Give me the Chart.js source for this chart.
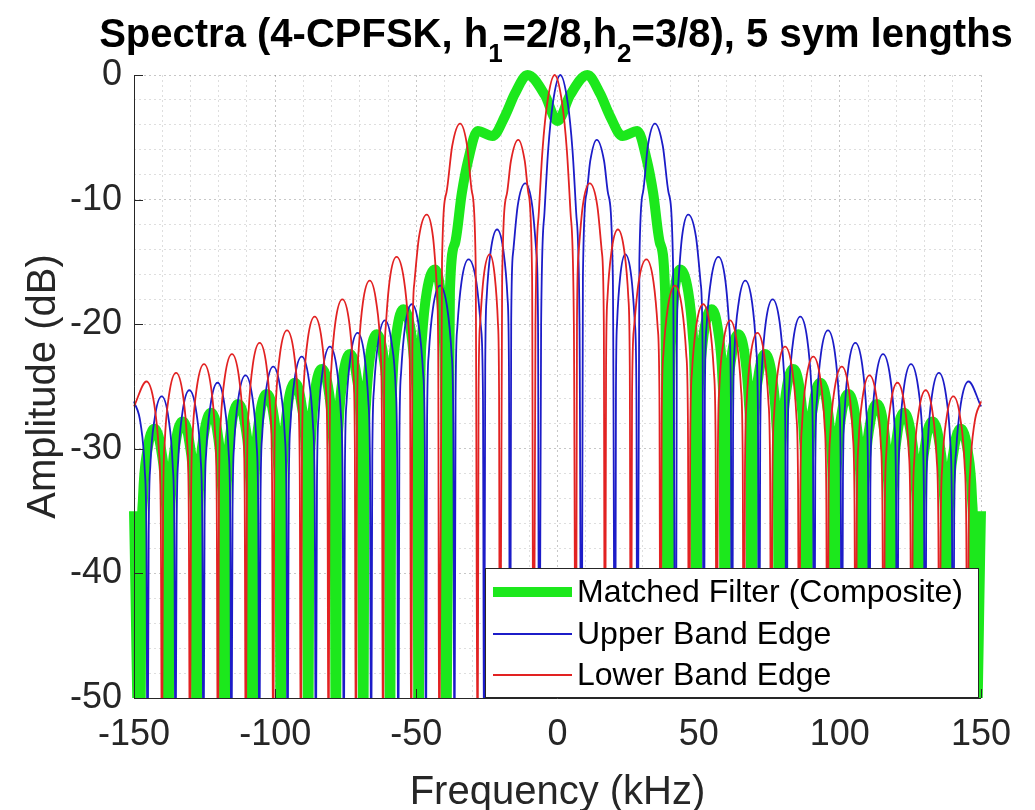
<!DOCTYPE html>
<html>
<head>
<meta charset="utf-8">
<title>Spectra (4-CPFSK)</title>
<script src="https://cdn.jsdelivr.net/npm/chart.js@4.4.1/dist/chart.umd.min.js"></script>
<style>
  html, body { margin: 0; padding: 0; background: #ffffff; }
  canvas { display: block; }
</style>
</head>
<body>
<canvas id="spectra" width="1035" height="810"></canvas>
<script>
// Notch depth: spectral nulls fall below the -50 dB floor, so they run off the bottom of the axes.
const NOTCH = -58;

// Matched filter (composite) spectrum: [frequency kHz, amplitude dB]
const matchedFilter = [
  [-150, -35], [-147.8, NOTCH],
  [-147.4, -39.4], [-146.8, -33.9], [-145.3, -30.2], [-142.8, -28.4], [-140.3, -30.2], [-138.8, -33.9], [-138.2, -39.4], [-137.8, NOTCH],
  [-137.4, -38.8], [-136.8, -33.3], [-135.3, -29.6], [-132.8, -27.8], [-130.3, -29.6], [-128.8, -33.3], [-128.2, -38.8], [-127.8, NOTCH],
  [-127.4, -38.1], [-126.8, -32.6], [-125.25, -28.9], [-122.7, -27.1], [-120.3, -28.9], [-118.9, -32.6], [-118.3, -38.1], [-117.9, NOTCH],
  [-117.5, -37.4], [-116.9, -31.9], [-115.5, -28.2], [-113.1, -26.4], [-110.55, -28.2], [-109.0, -31.9], [-108.4, -37.4], [-108.0, NOTCH],
  [-107.6, -36.6], [-107.0, -31.1], [-105.5, -27.4], [-103.0, -25.6], [-100.5, -27.4], [-99.0, -31.1], [-98.4, -36.6], [-98.0, NOTCH],
  [-97.6, -35.7], [-97.0, -30.2], [-95.5, -26.5], [-93.0, -24.7], [-90.65, -26.5], [-89.2, -30.2], [-88.7, -35.7], [-88.3, NOTCH],
  [-87.9, -34.6], [-87.3, -29.1], [-85.9, -25.4], [-83.5, -23.6], [-81.0, -25.4], [-79.5, -29.1], [-78.9, -34.6], [-78.5, NOTCH],
  [-78.1, -33.4], [-77.5, -27.9], [-76.0, -24.2], [-73.5, -22.4], [-71.15, -24.2], [-69.7, -27.9], [-69.2, -33.4], [-68.8, NOTCH],
  [-68.4, -31.8], [-67.8, -26.3], [-66.4, -22.6], [-64.0, -20.8], [-61.65, -22.6], [-60.2, -26.3], [-59.7, -31.8], [-59.3, NOTCH],
  [-58.9, -29.8], [-58.4, -24.3], [-56.95, -20.6], [-54.6, -18.8], [-51.9, -20.6], [-50.3, -24.3], [-49.6, -29.8], [-49.2, NOTCH],
  [-48.7, -26.6], [-48.0, -21.1], [-46.3, -17.4], [-43.4, -15.6], [-41.45, -17.4], [-40.3, -21.1], [-39.8, -26.6], [-39.5, NOTCH],
  [-38.1, -17.3], [-36.3, -13.5], [-33.9, -9.5], [-31.6, -6.8], [-28.3, -4.5], [-23.0, -4.9],
  [-18.6, -3.3], [-15.1, -1.5], [-10.6, 0], [-4.5, -1.6], [0, -3.7], [4.5, -1.6], [10.6, 0],
  [15.1, -1.5], [18.6, -3.3], [23.0, -4.9], [28.3, -4.5], [31.6, -6.8], [33.9, -9.5], [36.3, -13.5],
  [38.1, -17.3], [39.5, NOTCH],
  [39.8, -26.6], [40.3, -21.1], [41.45, -17.4], [43.4, -15.6], [46.3, -17.4], [48.0, -21.1], [48.7, -26.6], [49.2, NOTCH],
  [49.6, -29.8], [50.3, -24.3], [51.9, -20.6], [54.6, -18.8], [56.95, -20.6], [58.4, -24.3], [58.9, -29.8], [59.3, NOTCH],
  [59.7, -31.8], [60.2, -26.3], [61.65, -22.6], [64.0, -20.8], [66.4, -22.6], [67.8, -26.3], [68.4, -31.8], [68.8, NOTCH],
  [69.2, -33.4], [69.7, -27.9], [71.15, -24.2], [73.5, -22.4], [76.0, -24.2], [77.5, -27.9], [78.1, -33.4], [78.5, NOTCH],
  [78.9, -34.6], [79.5, -29.1], [81.0, -25.4], [83.5, -23.6], [85.9, -25.4], [87.3, -29.1], [87.9, -34.6], [88.3, NOTCH],
  [88.7, -35.7], [89.2, -30.2], [90.65, -26.5], [93.0, -24.7], [95.5, -26.5], [97.0, -30.2], [97.6, -35.7], [98.0, NOTCH],
  [98.4, -36.6], [99.0, -31.1], [100.5, -27.4], [103.0, -25.6], [105.5, -27.4], [107.0, -31.1], [107.6, -36.6], [108.0, NOTCH],
  [108.4, -37.4], [109.0, -31.9], [110.55, -28.2], [113.1, -26.4], [115.5, -28.2], [116.9, -31.9], [117.5, -37.4], [117.9, NOTCH],
  [118.3, -38.1], [118.9, -32.6], [120.3, -28.9], [122.7, -27.1], [125.25, -28.9], [126.8, -32.6], [127.4, -38.1], [127.8, NOTCH],
  [128.2, -38.8], [128.8, -33.3], [130.3, -29.6], [132.8, -27.8], [135.3, -29.6], [136.8, -33.3], [137.4, -38.8], [137.8, NOTCH],
  [138.2, -39.4], [138.8, -33.9], [140.3, -30.2], [142.8, -28.4], [145.3, -30.2], [146.8, -33.9], [147.4, -39.4], [147.8, NOTCH],
  [150, -35]
];

// Upper band edge spectrum: [frequency kHz, amplitude dB]
const upperBandEdge = [
  [-150, -26.2], [-147.65, -28.0], [-146.2, -31.7], [-145.6, -37.2], [-145.2, NOTCH],
  [-144.8, -36.8], [-144.2, -31.3], [-142.7, -27.6], [-140.2, -25.8], [-137.75, -27.6], [-136.3, -31.3], [-135.7, -36.8], [-135.3, NOTCH],
  [-134.9, -36.3], [-134.3, -30.8], [-132.85, -27.1], [-130.4, -25.3], [-127.9, -27.1], [-126.4, -30.8], [-125.8, -36.3], [-125.4, NOTCH],
  [-125.0, -35.7], [-124.4, -30.2], [-122.9, -26.5], [-120.4, -24.7], [-117.95, -26.5], [-116.5, -30.2], [-115.9, -35.7], [-115.5, NOTCH],
  [-115.1, -35.1], [-114.5, -29.6], [-113.0, -25.9], [-110.5, -24.1], [-108.05, -25.9], [-106.6, -29.6], [-106.0, -35.1], [-105.6, NOTCH],
  [-105.2, -34.4], [-104.6, -28.9], [-103.15, -25.2], [-100.7, -23.4], [-98.15, -25.2], [-96.6, -28.9], [-96.0, -34.4], [-95.6, NOTCH],
  [-95.2, -33.6], [-94.6, -28.1], [-93.1, -24.4], [-90.6, -22.6], [-88.1, -24.4], [-86.6, -28.1], [-86.0, -33.6], [-85.6, NOTCH],
  [-85.2, -32.8], [-84.6, -27.3], [-83.1, -23.6], [-80.6, -21.8], [-78.15, -23.6], [-76.7, -27.3], [-76.1, -32.8], [-75.7, NOTCH],
  [-75.3, -31.7], [-74.7, -26.2], [-73.25, -22.5], [-70.8, -20.7], [-68.4, -22.5], [-67.0, -26.2], [-66.4, -31.7], [-66.0, NOTCH],
  [-65.6, -30.7], [-65.0, -25.2], [-63.55, -21.5], [-61.1, -19.7], [-58.75, -21.5], [-57.3, -25.2], [-56.8, -30.7], [-56.4, NOTCH],
  [-56.0, -29.4], [-55.4, -23.9], [-54.0, -20.2], [-51.6, -18.4], [-49.1, -20.2], [-47.6, -23.9], [-47.0, -29.4], [-46.6, NOTCH],
  [-46.2, -27.9], [-45.6, -22.4], [-44.1, -18.7], [-41.6, -16.9], [-39.05, -18.7], [-37.5, -22.4], [-36.9, -27.9], [-36.5, NOTCH],
  [-36.1, -25.8], [-35.5, -20.3], [-34.0, -16.6], [-31.5, -14.8], [-28.75, -16.6], [-27.1, -20.3], [-26.4, -25.8], [-26.0, NOTCH],
  [-25.6, -23.4], [-25.1, -17.9], [-23.7, -14.2], [-21.4, -12.4], [-19.1, -14.2], [-17.7, -17.9], [-17.2, -23.4], [-16.8, NOTCH],
  [-16.4, -19.7], [-15.7, -14.2], [-14.1, -10.5], [-11.4, -8.7], [-8.95, -10.5], [-7.5, -14.2], [-6.9, -19.7], [-6.5, NOTCH],
  [-5.8, -20], [-4.6, -11], [-3.3, -6], [-1.6, -2.2], [1.0, 0], [3.6, -2.2], [5.3, -6], [6.6, -11], [7.8, -20], [8.5, NOTCH],
  [9.0, -16.2], [10.3, -9.5], [11.6, -6.9], [13.9, -5.2], [16.5, -6.9], [17.9, -9.5], [19.6, -16.2], [20.4, NOTCH],
  [20.7, -25.4], [21.1, -19.9], [22.2, -16.2], [24.0, -14.4], [26.15, -16.2], [27.4, -19.9], [27.95, -25.4], [28.3, NOTCH],
  [29.0, -14.9], [30.3, -9.4], [32.0, -5.7], [34.5, -3.9], [37.3, -5.7], [39.3, -9.4], [40.9, -14.9], [41.9, NOTCH],
  [42.25, -22.2], [42.8, -16.7], [44.1, -13.0], [46.3, -11.2], [49.05, -13.0], [50.7, -16.7], [51.4, -22.2], [51.8, NOTCH],
  [52.2, -25.6], [52.8, -20.1], [54.4, -16.4], [57.0, -14.6], [59.4, -16.4], [60.8, -20.1], [61.4, -25.6], [61.8, NOTCH],
  [62.2, -27.5], [62.7, -22.0], [64.15, -18.3], [66.5, -16.5], [68.95, -18.3], [70.4, -22.0], [71.0, -27.5], [71.4, NOTCH],
  [71.8, -29.0], [72.4, -23.5], [73.8, -19.8], [76.2, -18.0], [78.65, -19.8], [80.1, -23.5], [80.7, -29.0], [81.1, NOTCH],
  [81.5, -30.4], [82.1, -24.9], [83.55, -21.2], [86.0, -19.4], [88.45, -21.2], [89.9, -24.9], [90.5, -30.4], [90.9, NOTCH],
  [91.3, -31.5], [91.9, -26.0], [93.35, -22.3], [95.8, -20.5], [98.25, -22.3], [99.7, -26.0], [100.3, -31.5], [100.7, NOTCH],
  [101.1, -32.5], [101.7, -27.0], [103.1, -23.3], [105.5, -21.5], [107.95, -23.3], [109.4, -27.0], [110.0, -32.5], [110.4, NOTCH],
  [110.8, -33.4], [111.4, -27.9], [112.85, -24.2], [115.3, -22.4], [117.8, -24.2], [119.3, -27.9], [119.9, -33.4], [120.3, NOTCH],
  [120.7, -34.2], [121.3, -28.7], [122.75, -25.0], [125.2, -23.2], [127.7, -25.0], [129.2, -28.7], [129.8, -34.2], [130.2, NOTCH],
  [130.6, -34.9], [131.2, -29.4], [132.65, -25.7], [135.1, -23.9], [137.6, -25.7], [139.1, -29.4], [139.7, -34.9], [140.1, NOTCH],
  [140.5, -35.6], [141.2, -30.1], [142.85, -26.4], [145.6, -24.6], [150, -26.6]
];

// Lower band edge spectrum: [frequency kHz, amplitude dB]
const lowerBandEdge = [
  [-150, -26.6], [-145.6, -24.6], [-142.85, -26.4], [-141.2, -30.1], [-140.5, -35.6], [-140.1, NOTCH],
  [-139.7, -34.9], [-139.1, -29.4], [-137.6, -25.7], [-135.1, -23.9], [-132.65, -25.7], [-131.2, -29.4], [-130.6, -34.9], [-130.2, NOTCH],
  [-129.8, -34.2], [-129.2, -28.7], [-127.7, -25.0], [-125.2, -23.2], [-122.75, -25.0], [-121.3, -28.7], [-120.7, -34.2], [-120.3, NOTCH],
  [-119.9, -33.4], [-119.3, -27.9], [-117.8, -24.2], [-115.3, -22.4], [-112.85, -24.2], [-111.4, -27.9], [-110.8, -33.4], [-110.4, NOTCH],
  [-110.0, -32.5], [-109.4, -27.0], [-107.95, -23.3], [-105.5, -21.5], [-103.1, -23.3], [-101.7, -27.0], [-101.1, -32.5], [-100.7, NOTCH],
  [-100.3, -31.5], [-99.7, -26.0], [-98.25, -22.3], [-95.8, -20.5], [-93.35, -22.3], [-91.9, -26.0], [-91.3, -31.5], [-90.9, NOTCH],
  [-90.5, -30.4], [-89.9, -24.9], [-88.45, -21.2], [-86.0, -19.4], [-83.55, -21.2], [-82.1, -24.9], [-81.5, -30.4], [-81.1, NOTCH],
  [-80.7, -29.0], [-80.1, -23.5], [-78.65, -19.8], [-76.2, -18.0], [-73.8, -19.8], [-72.4, -23.5], [-71.8, -29.0], [-71.4, NOTCH],
  [-71.0, -27.5], [-70.4, -22.0], [-68.95, -18.3], [-66.5, -16.5], [-64.15, -18.3], [-62.7, -22.0], [-62.2, -27.5], [-61.8, NOTCH],
  [-61.4, -25.6], [-60.8, -20.1], [-59.4, -16.4], [-57.0, -14.6], [-54.4, -16.4], [-52.8, -20.1], [-52.2, -25.6], [-51.8, NOTCH],
  [-51.4, -22.2], [-50.7, -16.7], [-49.05, -13.0], [-46.3, -11.2], [-44.1, -13.0], [-42.8, -16.7], [-42.25, -22.2], [-41.9, NOTCH],
  [-40.9, -14.9], [-39.3, -9.4], [-37.3, -5.7], [-34.5, -3.9], [-32.0, -5.7], [-30.3, -9.4], [-29.0, -14.9], [-28.3, NOTCH],
  [-27.95, -25.4], [-27.4, -19.9], [-26.15, -16.2], [-24.0, -14.4], [-22.2, -16.2], [-21.1, -19.9], [-20.7, -25.4], [-20.4, NOTCH],
  [-19.6, -16.2], [-17.9, -9.5], [-16.5, -6.9], [-13.9, -5.2], [-11.6, -6.9], [-10.3, -9.5], [-9.0, -16.2], [-8.5, NOTCH],
  [-7.8, -20], [-6.6, -11], [-5.3, -6], [-3.6, -2.2], [-1.0, 0], [1.6, -2.2], [3.3, -6], [4.6, -11], [5.8, -20], [6.5, NOTCH],
  [6.9, -19.7], [7.5, -14.2], [8.95, -10.5], [11.4, -8.7], [14.1, -10.5], [15.7, -14.2], [16.4, -19.7], [16.8, NOTCH],
  [17.2, -23.4], [17.7, -17.9], [19.1, -14.2], [21.4, -12.4], [23.7, -14.2], [25.1, -17.9], [25.6, -23.4], [26.0, NOTCH],
  [26.4, -25.8], [27.1, -20.3], [28.75, -16.6], [31.5, -14.8], [34.0, -16.6], [35.5, -20.3], [36.1, -25.8], [36.5, NOTCH],
  [36.9, -27.9], [37.5, -22.4], [39.05, -18.7], [41.6, -16.9], [44.1, -18.7], [45.6, -22.4], [46.2, -27.9], [46.6, NOTCH],
  [47.0, -29.4], [47.6, -23.9], [49.1, -20.2], [51.6, -18.4], [54.0, -20.2], [55.4, -23.9], [56.0, -29.4], [56.4, NOTCH],
  [56.8, -30.7], [57.3, -25.2], [58.75, -21.5], [61.1, -19.7], [63.55, -21.5], [65.0, -25.2], [65.6, -30.7], [66.0, NOTCH],
  [66.4, -31.7], [67.0, -26.2], [68.4, -22.5], [70.8, -20.7], [73.25, -22.5], [74.7, -26.2], [75.3, -31.7], [75.7, NOTCH],
  [76.1, -32.8], [76.7, -27.3], [78.15, -23.6], [80.6, -21.8], [83.1, -23.6], [84.6, -27.3], [85.2, -32.8], [85.6, NOTCH],
  [86.0, -33.6], [86.6, -28.1], [88.1, -24.4], [90.6, -22.6], [93.1, -24.4], [94.6, -28.1], [95.2, -33.6], [95.6, NOTCH],
  [96.0, -34.4], [96.6, -28.9], [98.15, -25.2], [100.7, -23.4], [103.15, -25.2], [104.6, -28.9], [105.2, -34.4], [105.6, NOTCH],
  [106.0, -35.1], [106.6, -29.6], [108.05, -25.9], [110.5, -24.1], [113.0, -25.9], [114.5, -29.6], [115.1, -35.1], [115.5, NOTCH],
  [115.9, -35.7], [116.5, -30.2], [117.95, -26.5], [120.4, -24.7], [122.9, -26.5], [124.4, -30.2], [125.0, -35.7], [125.4, NOTCH],
  [125.8, -36.3], [126.4, -30.8], [127.9, -27.1], [130.4, -25.3], [132.85, -27.1], [134.3, -30.8], [134.9, -36.3], [135.3, NOTCH],
  [135.7, -36.8], [136.3, -31.3], [137.75, -27.6], [140.2, -25.8], [142.7, -27.6], [144.2, -31.3], [144.8, -36.8], [145.2, NOTCH],
  [145.6, -37.2], [146.2, -31.7], [147.65, -28.0], [150, -26.2]
];

const seriesLabels = ['Matched Filter (Composite)', 'Upper Band Edge', 'Lower Band Edge'];
const freqTicks = [-150, -100, -50, 0, 50, 100, 150];
const freqTickLabels = ['-150', '-100', '-50', '0', '50', '100', '150'];
const dbTicks = [0, -10, -20, -30, -40, -50];
const dbTickLabels = ['0', '-10', '-20', '-30', '-40', '-50'];
const freqAxisTitle = 'Frequency (kHz)';
const dbAxisTitle = 'Amplitude (dB)';
// Title pieces; "sub" marks a subscript
const titleParts = [
  { text: 'Spectra (4-CPFSK, h' }, { text: '1', sub: true },
  { text: '=2/8,h' }, { text: '2', sub: true },
  { text: '=3/8), 5 sym lengths' }
];

const FONT = "'Liberation Sans', Arial, Helvetica, sans-serif";
const AXIS_INK = '#262626';
const GREEN = 'rgb(28, 232, 28)';
const BLUE = 'rgb(28, 28, 200)';
const RED = 'rgb(226, 34, 34)';

const toXY = rows => rows.map(([x, y]) => ({ x, y }));
const labelFor = (value, ticks, labels) => {
  const i = ticks.findIndex(t => Math.abs(t - value) < 1e-6);
  return i >= 0 ? labels[i] : '';
};
const isMajor = (value, step) => Math.abs(value / step - Math.round(value / step)) < 1e-6;

// Axes decoration: axis lines, inward ticks, title, axis titles and legend box
const figureDecor = {
  id: 'figureDecor',
  afterDatasetsDraw(chart) {
    const { ctx, chartArea: a, scales: { x, y } } = chart;
    ctx.save();
    ctx.strokeStyle = AXIS_INK;
    ctx.lineWidth = 1;
    ctx.beginPath();
    ctx.moveTo(a.left + 0.5, a.top);
    ctx.lineTo(a.left + 0.5, a.bottom + 0.5);
    ctx.lineTo(a.right, a.bottom + 0.5);
    ctx.stroke();
    // inward tick marks at labelled positions
    ctx.beginPath();
    freqTicks.forEach(v => {
      const px = Math.round(x.getPixelForValue(v)) + 0.5;
      ctx.moveTo(px, a.bottom);
      ctx.lineTo(px, a.bottom - 9);
    });
    dbTicks.forEach(v => {
      const py = Math.round(y.getPixelForValue(v)) + 0.5;
      ctx.moveTo(a.left, py);
      ctx.lineTo(a.left + 9, py);
    });
    ctx.stroke();

    // legend
    const box = { left: a.right - 496, top: a.bottom - 130, right: a.right - 3, bottom: a.bottom - 1 };
    ctx.fillStyle = '#ffffff';
    ctx.fillRect(box.left, box.top, box.right - box.left, box.bottom - box.top);
    ctx.strokeStyle = AXIS_INK;
    ctx.lineWidth = 1;
    ctx.strokeRect(box.left + 0.5, box.top + 0.5, box.right - box.left, box.bottom - box.top);
    const rowY = [box.top + 24, box.top + 66, box.top + 107];
    ctx.font = `32px ${FONT}`;
    ctx.textBaseline = 'middle';
    ctx.textAlign = 'left';
    chart.data.datasets.forEach((ds, i) => {
      ctx.strokeStyle = ds.borderColor;
      ctx.lineWidth = ds.borderWidth;
      ctx.lineCap = 'butt';
      ctx.beginPath();
      ctx.moveTo(box.left + 8, rowY[i]);
      ctx.lineTo(box.left + 87, rowY[i]);
      ctx.stroke();
      ctx.fillStyle = '#000000';
      ctx.fillText(ds.label, box.left + 92, rowY[i] + 1);
    });
    ctx.restore();
  },
  afterDraw(chart) {
    const { ctx, chartArea: a } = chart;
    ctx.save();
    ctx.fillStyle = AXIS_INK;
    // x axis title
    ctx.font = `40px ${FONT}`;
    ctx.textAlign = 'center';
    ctx.textBaseline = 'alphabetic';
    ctx.fillText(freqAxisTitle, (a.left + a.right) / 2, 804);
    // y axis title
    ctx.save();
    ctx.translate(55, (a.top + a.bottom) / 2);
    ctx.rotate(-Math.PI / 2);
    ctx.fillText(dbAxisTitle, 0, 0);
    ctx.restore();

    // title with subscripts
    const mainFont = `bold 40px ${FONT}`;
    const subFont = `bold 26px ${FONT}`;
    let total = 0;
    titleParts.forEach(p => {
      ctx.font = p.sub ? subFont : mainFont;
      p.w = ctx.measureText(p.text).width;
      total += p.w;
    });
    let cx = 556 - total / 2;
    const base = 47;
    ctx.fillStyle = '#000000';
    ctx.textAlign = 'left';
    titleParts.forEach(p => {
      ctx.font = p.sub ? subFont : mainFont;
      ctx.fillText(p.text, cx, p.sub ? base + 15 : base);
      cx += p.w;
    });
    ctx.restore();
  }
};

const lineStyle = {
  pointRadius: 0,
  cubicInterpolationMode: 'monotone',
  borderCapStyle: 'butt',
  borderJoinStyle: 'round',
  clip: { left: 12, top: 12, right: 12, bottom: 0 }
};

new Chart(document.getElementById('spectra'), {
  type: 'line',
  data: {
    datasets: [
      Object.assign({ label: seriesLabels[0], data: toXY(matchedFilter), borderColor: GREEN, borderWidth: 10, order: 3 }, lineStyle),
      Object.assign({ label: seriesLabels[1], data: toXY(upperBandEdge), borderColor: BLUE, borderWidth: 1.8, order: 2 }, lineStyle),
      Object.assign({ label: seriesLabels[2], data: toXY(lowerBandEdge), borderColor: RED, borderWidth: 1.8, order: 1 }, lineStyle)
    ]
  },
  options: {
    responsive: false,
    animation: false,
    devicePixelRatio: 1,
    layout: { padding: { left: 0, top: 75, right: 54, bottom: 0 } },
    elements: { line: { capBezierPoints: false } },
    plugins: {
      legend: { display: false },
      title: { display: false },
      tooltip: { enabled: false }
    },
    events: [],
    scales: {
      x: {
        type: 'linear',
        min: -150,
        max: 150,
        afterFit: s => { s.height = 112; },
        ticks: {
          stepSize: 10,
          autoSkip: false,
          maxRotation: 0,
          padding: 15,
          color: AXIS_INK,
          font: { family: FONT, size: 36 },
          callback: v => labelFor(v, freqTicks, freqTickLabels)
        },
        grid: {
          drawTicks: false,
          lineWidth: 1,
          color: c => isMajor(c.tick.value, 50) ? 'rgba(0,0,0,0.22)' : 'rgba(0,0,0,0.13)'
        },
        border: { display: false, dash: [2, 3] }
      },
      y: {
        type: 'linear',
        min: -50,
        max: 0,
        afterFit: s => { s.width = 134; },
        ticks: {
          stepSize: 2,
          autoSkip: false,
          padding: 12,
          color: AXIS_INK,
          font: { family: FONT, size: 36 },
          callback: v => labelFor(v, dbTicks, dbTickLabels)
        },
        grid: {
          drawTicks: false,
          lineWidth: 1,
          color: c => isMajor(c.tick.value, 10) ? 'rgba(0,0,0,0.22)' : 'rgba(0,0,0,0.13)'
        },
        border: { display: false, dash: [2, 3] }
      }
    }
  },
  plugins: [figureDecor]
});
</script>
</body>
</html>
